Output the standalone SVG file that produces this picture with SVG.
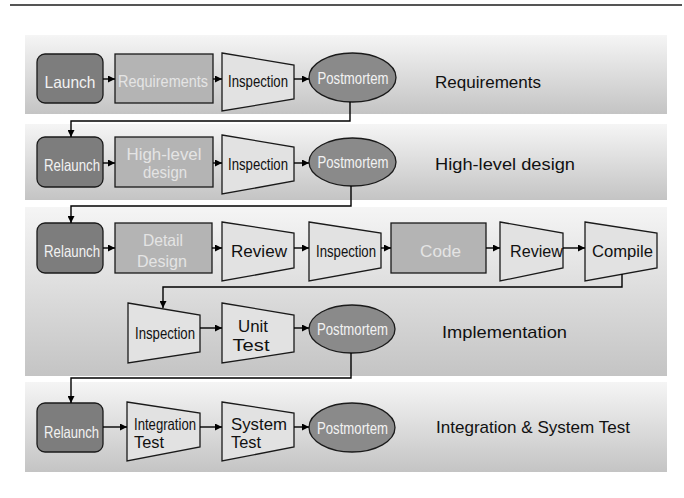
<svg xmlns="http://www.w3.org/2000/svg" width="684" height="498" viewBox="0 0 684 498">
  <defs>
    <linearGradient id="bandFill" x1="0" y1="0" x2="0" y2="1">
      <stop offset="0" stop-color="#f5f5f5"/>
      <stop offset="1" stop-color="#c4c4c4"/>
    </linearGradient>
    <marker id="arrow" viewBox="0 0 8 8" refX="8" refY="4" markerWidth="7" markerHeight="7" markerUnits="userSpaceOnUse" orient="auto">
      <path d="M0,0 L8,4 L0,8 z" fill="#000"/>
    </marker>
  </defs>
  <style>
    text { font-family: "Liberation Sans", Arial, sans-serif; text-anchor: middle; }
    .band { fill: url(#bandFill); }
    .start { fill: #7d7d7d; stroke: #1a1a1a; stroke-width: 1.3; }
    .work { fill: #b4b4b4; stroke: #1a1a1a; stroke-width: 1.3; }
    .check { fill: #e2e2e2; stroke: #1a1a1a; stroke-width: 1.3; }
    .post { fill: #8a8a8a; stroke: #1a1a1a; stroke-width: 1.3; }
    .tw { fill: #f2f2f2; font-size: 16.5px; }
    .tl { fill: #e4e4e4; font-size: 16.5px; }
    .tb { fill: #111; font-size: 16.5px; }
    .phase { fill: #111; font-size: 17px; text-anchor: start; }
    .conn path, .conn line { fill: none; stroke: #000; stroke-width: 1.4; marker-end: url(#arrow); }
  </style>

  <!-- header rule -->
  <line x1="10" y1="5" x2="682" y2="5" stroke="#555" stroke-width="2"/>

  <!-- phase bands -->
  <rect class="band" x="25" y="35" width="642" height="79"/>
  <rect class="band" x="25" y="124" width="642" height="76"/>
  <rect class="band" x="25" y="207" width="642" height="169"/>
  <rect class="band" x="25" y="382" width="642" height="90"/>

  <!-- phase labels -->
  <text class="phase" x="435" y="88" textLength="106" lengthAdjust="spacingAndGlyphs">Requirements</text>
  <text class="phase" x="435" y="170" textLength="140" lengthAdjust="spacingAndGlyphs">High-level design</text>
  <text class="phase" x="442" y="338" textLength="125" lengthAdjust="spacingAndGlyphs">Implementation</text>
  <text class="phase" x="436" y="433" textLength="194" lengthAdjust="spacingAndGlyphs">Integration &amp; System Test</text>

  <!-- Row 1: Requirements -->
  <g id="launch">
    <rect class="start" x="37" y="54" width="66" height="49" rx="8"/>
    <text class="tw" x="70" y="88" textLength="51" lengthAdjust="spacingAndGlyphs">Launch</text>
  </g>
  <g id="requirements">
    <rect class="work" x="115" y="54" width="98" height="49"/>
    <text class="tl" x="163" y="87" textLength="90" lengthAdjust="spacingAndGlyphs">Requirements</text>
  </g>
  <g id="req-inspection">
    <polygon class="check" points="222,53 294,65 294,99 222,111"/>
    <text class="tb" x="258" y="87" textLength="60" lengthAdjust="spacingAndGlyphs">Inspection</text>
  </g>
  <g id="req-postmortem">
    <ellipse class="post" cx="352.5" cy="77.5" rx="43.5" ry="24.5"/>
    <text class="tw" x="353" y="84" font-size="16" textLength="71" lengthAdjust="spacingAndGlyphs">Postmortem</text>
  </g>

  <!-- Row 2: High-level design -->
  <g id="hld-relaunch">
    <rect class="start" x="37" y="137" width="66" height="50" rx="8"/>
    <text class="tw" x="72" y="171" textLength="56" lengthAdjust="spacingAndGlyphs">Relaunch</text>
  </g>
  <g id="hld-design">
    <rect class="work" x="115" y="137" width="98" height="50"/>
    <text class="tl" x="164" y="160" font-size="17" textLength="75" lengthAdjust="spacingAndGlyphs">High-level</text>
    <text class="tl" x="165" y="178" font-size="17" textLength="44" lengthAdjust="spacingAndGlyphs">design</text>
  </g>
  <g id="hld-inspection">
    <polygon class="check" points="222,135 294,147 294,181 222,194"/>
    <text class="tb" x="258" y="170" textLength="60" lengthAdjust="spacingAndGlyphs">Inspection</text>
  </g>
  <g id="hld-postmortem">
    <ellipse class="post" cx="352.5" cy="162" rx="43.5" ry="24"/>
    <text class="tw" x="353" y="168" font-size="16" textLength="71" lengthAdjust="spacingAndGlyphs">Postmortem</text>
  </g>

  <!-- Row 3: Implementation -->
  <g id="impl-relaunch">
    <rect class="start" x="37" y="223" width="66" height="50" rx="8"/>
    <text class="tw" x="72" y="257" textLength="56" lengthAdjust="spacingAndGlyphs">Relaunch</text>
  </g>
  <g id="detail-design">
    <rect class="work" x="115" y="223" width="97" height="50"/>
    <text class="tl" x="163" y="246" font-size="17" textLength="40" lengthAdjust="spacingAndGlyphs">Detail</text>
    <text class="tl" x="162" y="267" font-size="17" textLength="50" lengthAdjust="spacingAndGlyphs">Design</text>
  </g>
  <g id="design-review">
    <polygon class="check" points="222,222 294,233 294,268 222,281"/>
    <text class="tb" x="259" y="257" font-size="17.5" textLength="56" lengthAdjust="spacingAndGlyphs">Review</text>
  </g>
  <g id="design-inspection">
    <polygon class="check" points="309,222 381,233 381,268 309,281"/>
    <text class="tb" x="346" y="257" textLength="60" lengthAdjust="spacingAndGlyphs">Inspection</text>
  </g>
  <g id="code">
    <rect class="work" x="391" y="223" width="95" height="50"/>
    <text class="tl" x="440.5" y="257" font-size="17" textLength="41" lengthAdjust="spacingAndGlyphs">Code</text>
  </g>
  <g id="code-review">
    <polygon class="check" points="500,222 563,233 563,268 500,281"/>
    <text class="tb" x="536.5" y="257" font-size="17.5" textLength="53" lengthAdjust="spacingAndGlyphs">Review</text>
  </g>
  <g id="compile">
    <polygon class="check" points="585,222 657,233 657,268 585,281"/>
    <text class="tb" x="622.5" y="257" font-size="17.5" textLength="61" lengthAdjust="spacingAndGlyphs">Compile</text>
  </g>
  <g id="code-inspection">
    <polygon class="check" points="128,303 200,315 200,352 128,363"/>
    <text class="tb" x="165" y="339" textLength="60" lengthAdjust="spacingAndGlyphs">Inspection</text>
  </g>
  <g id="unit-test">
    <polygon class="check" points="222,303 294,315 294,352 222,363"/>
    <text class="tb" x="253" y="332" font-size="17.5" textLength="30" lengthAdjust="spacingAndGlyphs">Unit</text>
    <text class="tb" x="251" y="351" font-size="17.5" textLength="37" lengthAdjust="spacingAndGlyphs">Test</text>
  </g>
  <g id="impl-postmortem">
    <ellipse class="post" cx="352" cy="329" rx="43" ry="24"/>
    <text class="tw" x="352.5" y="335" font-size="16" textLength="71" lengthAdjust="spacingAndGlyphs">Postmortem</text>
  </g>

  <!-- Row 4: Integration & System Test -->
  <g id="test-relaunch">
    <rect class="start" x="37" y="403" width="66" height="49" rx="8"/>
    <text class="tw" x="71.5" y="438" textLength="55" lengthAdjust="spacingAndGlyphs">Relaunch</text>
  </g>
  <g id="integration-test">
    <polygon class="check" points="127,402 200,413 200,447 127,461"/>
    <text class="tb" x="134" y="430" font-size="17" textLength="62" lengthAdjust="spacingAndGlyphs" style="text-anchor:start">Integration</text>
    <text class="tb" x="134" y="448" font-size="17" textLength="30" lengthAdjust="spacingAndGlyphs" style="text-anchor:start">Test</text>
  </g>
  <g id="system-test">
    <polygon class="check" points="222,402 294,413 294,447 222,461"/>
    <text class="tb" x="231" y="430" font-size="18" textLength="56" lengthAdjust="spacingAndGlyphs" style="text-anchor:start">System</text>
    <text class="tb" x="231" y="448" font-size="18" textLength="30" lengthAdjust="spacingAndGlyphs" style="text-anchor:start">Test</text>
  </g>
  <g id="test-postmortem">
    <ellipse class="post" cx="352" cy="427.5" rx="43" ry="24.5"/>
    <text class="tw" x="352.5" y="434" font-size="16" textLength="71" lengthAdjust="spacingAndGlyphs">Postmortem</text>
  </g>

  <!-- connectors -->
  <g id="connectors" class="conn">
    <line x1="103" y1="79" x2="115" y2="79"/>
    <line x1="213" y1="79" x2="222" y2="79"/>
    <line x1="294" y1="79" x2="309" y2="79"/>
    <path d="M350,102 V121 H71 V137"/>

    <line x1="103" y1="163" x2="115" y2="163"/>
    <line x1="213" y1="163" x2="222" y2="163"/>
    <line x1="294" y1="163" x2="309" y2="163"/>
    <path d="M351,186 V206 H71 V223"/>

    <line x1="103" y1="248" x2="115" y2="248"/>
    <line x1="212" y1="248" x2="222" y2="248"/>
    <line x1="294" y1="248" x2="309" y2="248"/>
    <line x1="381" y1="248" x2="391" y2="248"/>
    <line x1="486" y1="248" x2="500" y2="248"/>
    <line x1="563" y1="248" x2="585" y2="248"/>
    <path d="M622,274 V287 H163 V308"/>

    <line x1="200" y1="328" x2="222" y2="328"/>
    <line x1="294" y1="328" x2="309" y2="328"/>
    <path d="M351,353 V378 H71 V403"/>

    <line x1="103" y1="427" x2="127" y2="427"/>
    <line x1="200" y1="427" x2="222" y2="427"/>
    <line x1="294" y1="427" x2="309" y2="427"/>
  </g>
</svg>
